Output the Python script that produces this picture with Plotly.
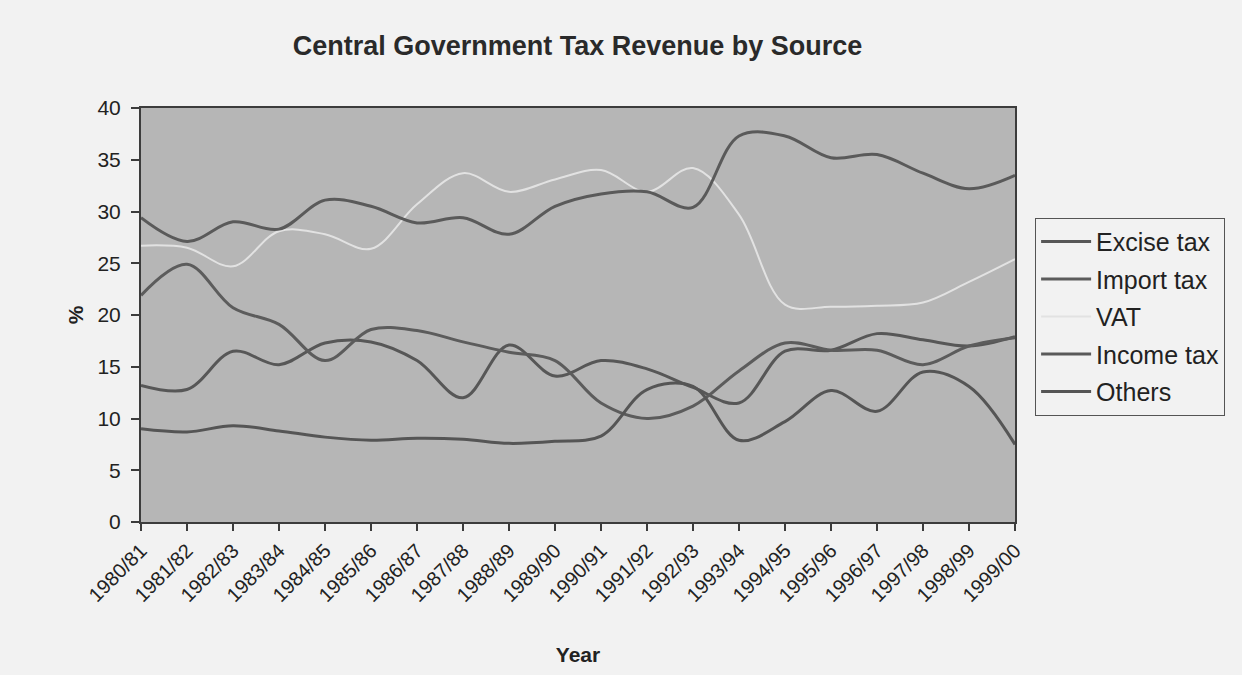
import plotly.graph_objects as go

# Fiscal years
years = ["1980/81", "1981/82", "1982/83", "1983/84", "1984/85", "1985/86",
         "1986/87", "1987/88", "1988/89", "1989/90", "1990/91", "1991/92",
         "1992/93", "1993/94", "1994/95", "1995/96", "1996/97", "1997/98",
         "1998/99", "1999/00"]

# Share of central government tax revenue (%)
excise_tax = [13.2, 12.8, 16.5, 15.2, 17.3, 17.4, 15.6, 12.0, 17.1, 14.1,
              15.6, 14.8, 13.0, 11.5, 16.5, 16.6, 18.2, 17.6, 17.0, 17.9]
import_tax = [21.9, 24.9, 20.7, 19.1, 15.6, 18.6, 18.5, 17.4, 16.4, 15.6,
              11.5, 10.0, 11.2, 14.6, 17.3, 16.6, 16.6, 15.2, 17.0, 17.8]
vat = [26.7, 26.5, 24.7, 28.1, 27.8, 26.4, 30.7, 33.7, 31.9, 33.1,
       34.0, 31.9, 34.2, 29.7, 21.0, 20.8, 20.9, 21.2, 23.2, 25.4]
income_tax = [29.4, 27.1, 29.0, 28.3, 31.1, 30.5, 28.9, 29.4, 27.8, 30.5,
              31.7, 31.9, 30.4, 37.3, 37.3, 35.2, 35.5, 33.7, 32.2, 33.5]
others = [9.0, 8.7, 9.3, 8.8, 8.2, 7.9, 8.1, 8.0, 7.6, 7.8,
          8.3, 12.8, 13.1, 7.9, 9.7, 12.7, 10.7, 14.5, 13.1, 7.5]

series = [
    ("Excise tax", excise_tax, "#575757", 3),
    ("Import tax", import_tax, "#5c5c5c", 3),
    ("VAT", vat, "#e2e2e2", 2),
    ("Income tax", income_tax, "#5a5a5a", 3),
    ("Others", others, "#555555", 3),
]

FONT = "Arial, Liberation Sans, sans-serif"

fig = go.Figure()
for name, vals, color, width in series:
    fig.add_trace(go.Scatter(
        x=years, y=vals, name=name, mode="lines",
        legendgroup=name,
        line=dict(color=color, width=width, shape="spline", smoothing=1),
        cliponaxis=False,
    ))

fig.update_layout(
    width=1242, height=675,
    margin=dict(l=141, r=227, t=108, b=150),
    paper_bgcolor="#f2f2f2",
    plot_bgcolor="#b6b6b6",
    font=dict(family=FONT, color="#222222", size=19),
    title=dict(
        text="<b>Central Government Tax Revenue by Source</b>",
        x=0.465, xanchor="center", y=0.933, yanchor="middle",
        font=dict(size=27, family=FONT, color="#2a2a2a"),
    ),
    showlegend=True,
    legend=dict(
        x=1.023, xanchor="left", y=0.735, yanchor="top",
        bgcolor="#f2f2f2", bordercolor="#555555", borderwidth=1,
        font=dict(size=25, family=FONT, color="#222222"),
        traceorder="grouped", tracegroupgap=2,
        itemwidth=50,
    ),
)

fig.update_xaxes(
    type="category", range=[0, 19],
    showline=True, linecolor="#3c3c3c", linewidth=2, mirror=True,
    ticks="outside", ticklen=7, tickcolor="#3c3c3c", tickwidth=1.5,
    tickangle=-45, showgrid=False, zeroline=False,
    tickfont=dict(size=20, family=FONT, color="#222222"),
    title=dict(text="<b>Year</b>", font=dict(size=21, family=FONT), standoff=42),
)
fig.update_yaxes(
    range=[0, 40], dtick=5,
    showline=True, linecolor="#3c3c3c", linewidth=2, mirror=True,
    ticks="outside", ticklen=8, tickcolor="#3c3c3c", tickwidth=1.5,
    ticklabelstandoff=6,
    showgrid=False, zeroline=False,
    tickfont=dict(size=21, family=FONT, color="#222222"),
    title=dict(text="<b>%</b>", font=dict(size=21, family=FONT), standoff=8),
)

fig.write_html("out.html")
